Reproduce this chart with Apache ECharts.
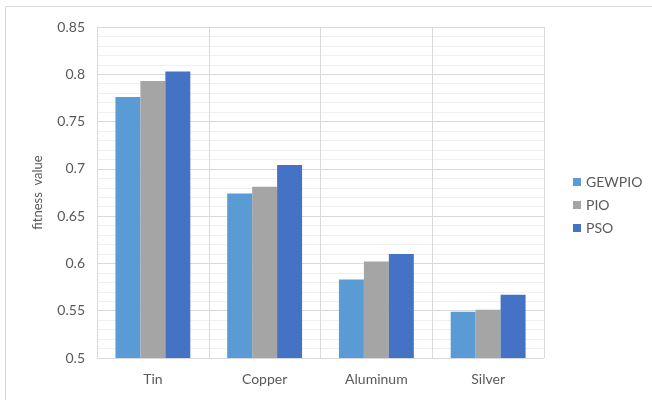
<!DOCTYPE html>
<html>
<head>
<meta charset="utf-8">
<script src="https://cdn.jsdelivr.net/npm/echarts@6/dist/echarts.min.js"></script>
<style>
  html, body { margin: 0; padding: 0; background: #ffffff; }
  #chart { width: 652px; height: 400px; }
</style>
</head>
<body>
<div id="chart"></div>
<script>
// Fitness values per metal for each optimisation method
const categories = ['Tin', 'Copper', 'Aluminum', 'Silver'];
const gewpio = [0.776, 0.674, 0.583, 0.549];
const pio = [0.793, 0.681, 0.602, 0.551];
const pso = [0.803, 0.704, 0.610, 0.567];
const seriesNames = ['GEWPIO', 'PIO', 'PSO'];
const seriesColors = ['#5B9BD5', '#A5A5A5', '#4472C4'];

const font = 'Lato, "Open Sans", sans-serif';
const textColor = '#595959';

const chart = echarts.init(document.getElementById('chart'), null, { renderer: 'canvas' });

chart.setOption({
  animation: false,
  backgroundColor: '#ffffff',
  textStyle: { fontFamily: font },
  graphic: [{
    type: 'rect',
    shape: { x: 5.5, y: 6.5, width: 700, height: 500 },
    style: { fill: 'none', stroke: '#d9d9d9', lineWidth: 1 },
    silent: true
  }],
  grid: { left: 97, right: 108, top: 27, bottom: 42 },
  legend: {
    orient: 'vertical',
    left: 568,
    top: 170,
    itemWidth: 8,
    itemHeight: 8,
    itemGap: 9,
    icon: 'rect',
    textStyle: { fontSize: 14, color: textColor, fontFamily: font },
    data: seriesNames
  },
  xAxis: {
    type: 'category',
    data: categories,
    axisLine: { show: false },
    axisTick: { show: false },
    axisLabel: { color: textColor, fontSize: 14, margin: 14, fontFamily: font },
    splitLine: { show: true, interval: 0, lineStyle: { color: '#d9d9d9', width: 1 } }
  },
  yAxis: {
    type: 'value',
    min: 0.5,
    max: 0.85,
    interval: 0.05,
    name: 'fitness  value',
    nameLocation: 'middle',
    nameGap: 53,
    nameRotate: 90,
    nameTextStyle: { color: textColor, fontSize: 13, fontFamily: font },
    axisLine: { show: false },
    axisTick: { show: false },
    axisLabel: {
      color: textColor, fontSize: 14, margin: 12, fontFamily: font,
      formatter: v => String(parseFloat(v.toFixed(2)))
    },
    splitLine: { show: true, lineStyle: { color: '#d9d9d9', width: 1 } },
    minorTick: { show: false, splitNumber: 5 },
    minorSplitLine: { show: true, lineStyle: { color: '#f0f0f0', width: 1 } }
  },
  series: [gewpio, pio, pso].map((values, i) => ({
    name: seriesNames[i],
    type: 'bar',
    data: values,
    barGap: '0%',
    barCategoryGap: '33%',
    itemStyle: { color: seriesColors[i] }
  }))
});
</script>
</body>
</html>
